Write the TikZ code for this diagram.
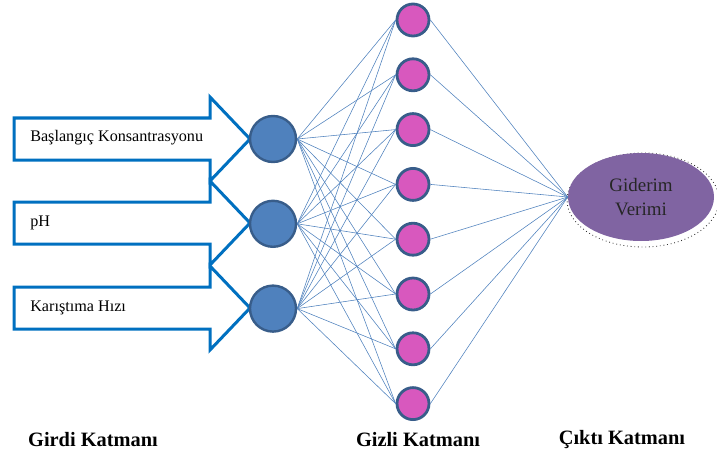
\documentclass[tikz,border=0pt]{standalone}
\usepackage{fontspec}
\setmainfont{Liberation Serif}
\usepackage{tikz}
\usetikzlibrary{positioning,calc,shapes.geometric}
\definecolor{arrowblue}{HTML}{0070C0}
\definecolor{nodeblue}{HTML}{4F81BD}
\definecolor{rimblue}{HTML}{385D8A}
\definecolor{hidpink}{HTML}{D858BE}
\definecolor{outpurple}{HTML}{8064A2}
\tikzset{
  inputarrow/.style={draw=arrowblue, line width=0.75mm, fill=white, line join=miter},
  arrowtext/.style={anchor=west, inner sep=0pt, font=\fontsize{11.5}{13}\selectfont},
  innode/.style={circle, draw=rimblue, line width=0.6mm, fill=nodeblue, minimum size=11.5mm, inner sep=0pt},
  hidnode/.style={circle, draw=rimblue, line width=0.7mm, fill=hidpink, minimum size=8mm, inner sep=0pt},
  outnode/.style={ellipse, fill=outpurple, minimum width=36.5mm, minimum height=22mm, align=center, text=black!85, font=\fontsize{13.5}{17}\selectfont},
  shadowring/.style={ellipse, draw=black!80, dotted, line width=0.6pt, minimum width=38mm, minimum height=23.5mm},
  link/.style={draw=nodeblue, line width=0.4pt},
  layerlabel/.style={font=\bfseries\fontsize{14.5}{17}\selectfont}
}
\begin{document}
\begin{tikzpicture}[x=0.25mm, y=-0.25mm, node distance=5mm]
\useasboundingbox (0,0) rectangle (717,457);

% input arrows
\draw[inputarrow] (14,118) -- (210,118) -- (210,97) -- (250,139) -- (210,181) -- (210,160) -- (14,160) -- cycle;
\draw[inputarrow] (14,202) -- (210,202) -- (210,181) -- (250,223) -- (210,265) -- (210,244) -- (14,244) -- cycle;
\draw[inputarrow] (14,287) -- (210,287) -- (210,266) -- (250,308) -- (210,350) -- (210,329) -- (14,329) -- cycle;
\node[arrowtext] (t1) at (30,138) {Başlangıç Konsantrasyonu};
\node[arrowtext] (t2) at (30,223) {pH};
\node[arrowtext] (t3) at (30,308) {Karıştıma Hızı};

\node[innode] (in1) at (273,139) {};
\node[innode, below=9.1mm of in1] (in2) {};
\node[innode, below=9.1mm of in2] (in3) {};

\node[hidnode] (h1) at (413,20) {};
\node[hidnode, below=of h1] (h2) {};
\node[hidnode, below=of h2] (h3) {};
\node[hidnode, below=of h3] (h4) {};
\node[hidnode, below=of h4] (h5) {};
\node[hidnode, below=of h5] (h6) {};
\node[hidnode, below=of h6] (h7) {};
\node[hidnode, below=of h7] (h8) {};

\node[shadowring] (outsh) at (643,200) {};
\node[outnode] (out) at (641,197) {Giderim\\Verimi};

\foreach \i in {1,2,3}
  \foreach \j in {1,...,8}
    \draw[link] (in\i.east) -- (h\j.west);
\foreach \j in {1,...,8}
  \draw[link] (h\j.east) -- (out.west);

\node[layerlabel] (lab1) at (93,440) {Girdi Katmanı};
\node[layerlabel] (lab2) at (418,440) {Gizli Katmanı};
\node[layerlabel] (lab3) at (622,440) {Çıktı Katmanı};
\end{tikzpicture}
\end{document}
